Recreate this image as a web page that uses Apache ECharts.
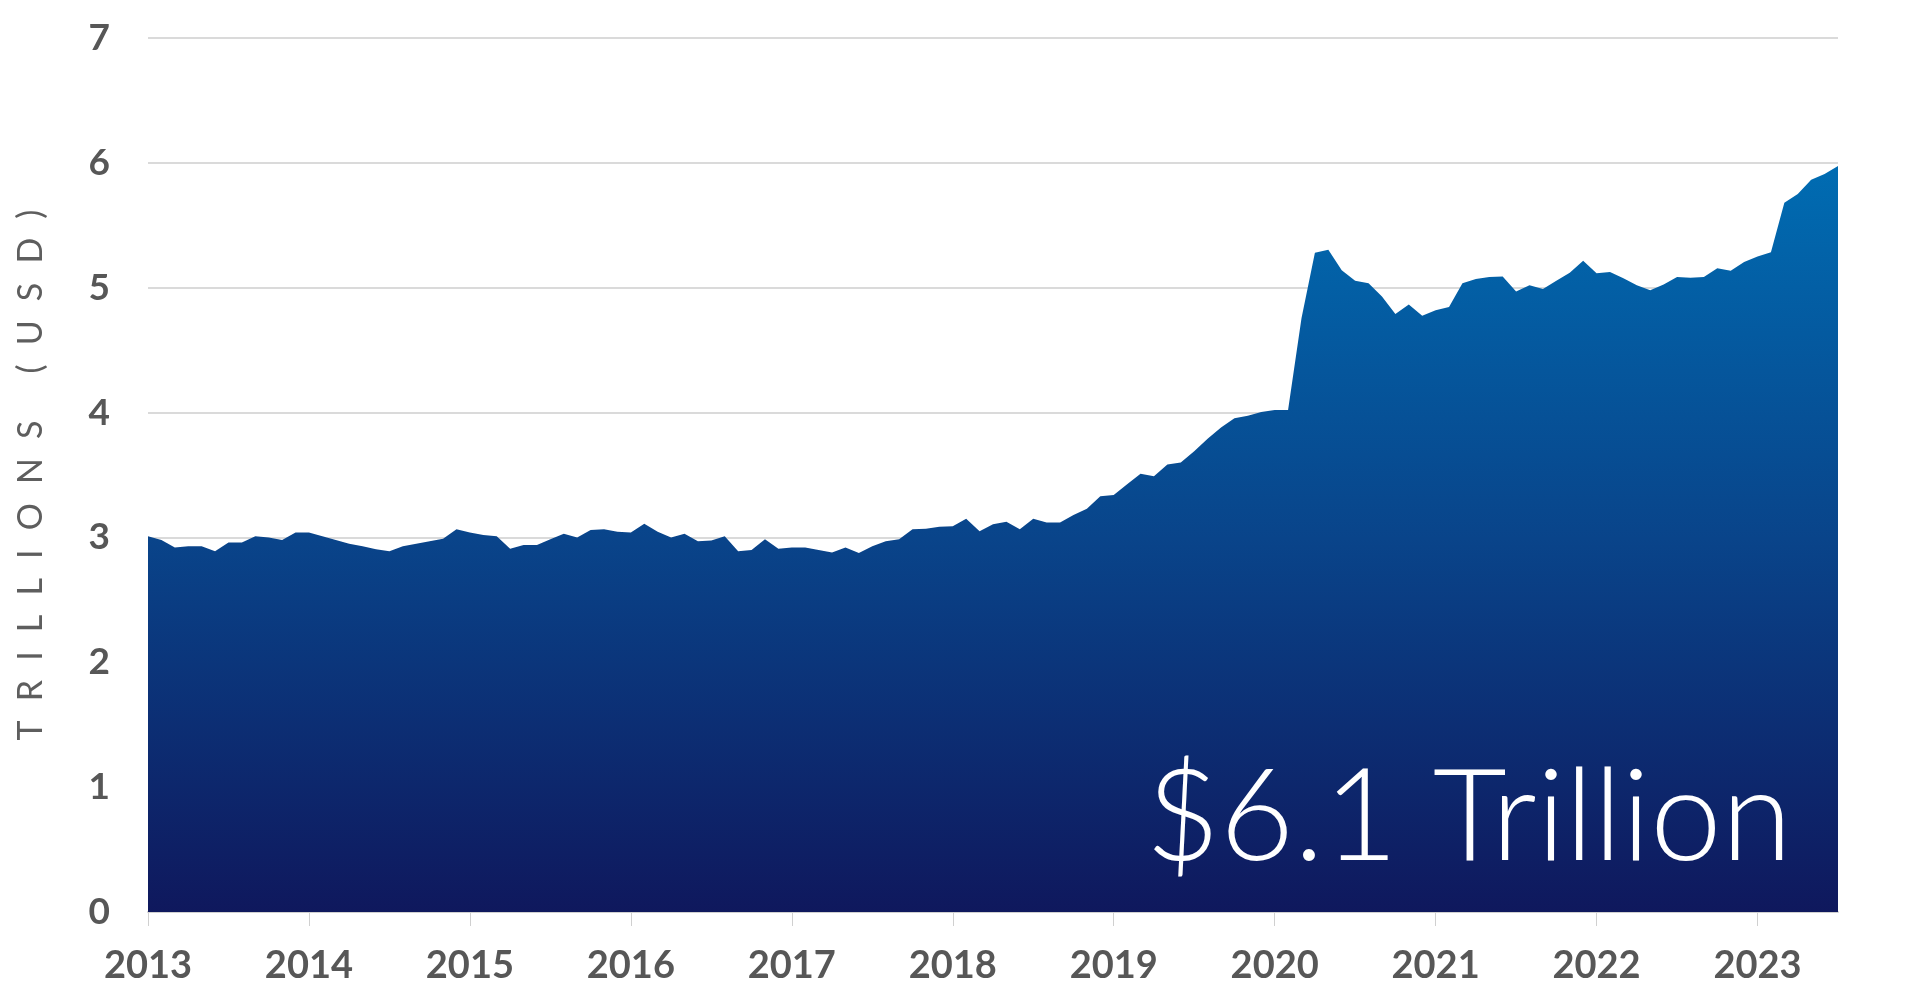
<!DOCTYPE html>
<html>
<head>
<meta charset="utf-8">
<script src="https://cdn.jsdelivr.net/npm/echarts@6/dist/echarts.min.js"></script>
<style>
html,body{margin:0;padding:0;background:#fff;}
#chart{width:1920px;height:1006px;}
</style>
</head>
<body>
<div id="chart"></div>
<script>
// Monthly, Jan 2013 .. Jul 2023
const startYear = 2013;
const values = [
  3.01, 2.98, 2.92, 2.93, 2.93, 2.89, 2.96, 2.96, 3.01, 3.00, 2.98, 3.04,
  3.04, 3.01, 2.98, 2.95, 2.93, 2.905, 2.89, 2.93, 2.95, 2.97, 2.99, 3.065,
  3.04, 3.02, 3.01, 2.91, 2.94, 2.94, 2.985, 3.03, 3.00, 3.06, 3.065, 3.045,
  3.04, 3.11, 3.045, 3.00, 3.03, 2.97, 2.975, 3.01, 2.89, 2.90, 2.985, 2.91,
  2.92, 2.92, 2.90, 2.88, 2.92, 2.875, 2.93, 2.97, 2.985, 3.065, 3.07, 3.085,
  3.09, 3.15, 3.05, 3.105, 3.125, 3.065, 3.15, 3.12, 3.12, 3.18, 3.23, 3.33,
  3.34, 3.425, 3.51, 3.49, 3.585, 3.60, 3.69, 3.79, 3.88, 3.955, 3.975, 4.005,
  4.02, 4.02, 4.755, 5.28, 5.305, 5.14, 5.055, 5.035, 4.93, 4.79, 4.865, 4.775,
  4.82, 4.845, 5.035, 5.07, 5.085, 5.09, 4.97, 5.02, 4.99, 5.055, 5.12, 5.215,
  5.115, 5.125, 5.075, 5.02, 4.98, 5.025, 5.085, 5.08, 5.085, 5.155, 5.135, 5.205,
  5.25, 5.285, 5.68, 5.75, 5.865, 5.91, 5.975
];
const months = values.map((v, i) => {
  const y = startYear + Math.floor(i / 12);
  const m = (i % 12) + 1;
  return y + '-' + (m < 10 ? '0' + m : m);
});
const yAxisTitle = 'TRILLIONS (USD)';
const calloutText = '$6.1 Trillion';

function spaced(s) {
  return s.split('').join('\u2002\u200A');
}

const chart = echarts.init(document.getElementById('chart'), null, {renderer: 'canvas'});
chart.setOption({
  animation: false,
  grid: {left: 148, right: 82, top: 38, bottom: 94, containLabel: false},
  xAxis: {
    type: 'category',
    data: months,
    boundaryGap: false,
    axisLine: {show: true, lineStyle: {color: '#d0d0d0', width: 2}},
    axisTick: {
      show: true,
      length: 14,
      interval: (idx) => idx % 12 === 0,
      lineStyle: {color: '#d0d0d0', width: 1}
    },
    axisLabel: {
      interval: (idx) => idx % 12 === 0,
      formatter: (v) => v.slice(0, 4),
      color: '#575757',
      fontFamily: 'Lato',
      fontWeight: 'bold',
      fontSize: 38,
      margin: 35
    },
    splitLine: {show: false}
  },
  yAxis: {
    type: 'value',
    min: 0,
    max: 7,
    interval: 1,
    name: spaced(yAxisTitle),
    nameLocation: 'middle',
    nameRotate: 90,
    nameGap: 100,
    nameTextStyle: {color: '#5e5e5e', fontFamily: 'Lato', fontSize: 34, fontWeight: 'normal'},
    axisLine: {show: false},
    axisTick: {show: false},
    axisLabel: {
      color: '#575757',
      fontFamily: 'Lato',
      fontWeight: 'bold',
      fontSize: 37,
      margin: 38
    },
    splitLine: {show: true, lineStyle: {color: '#dadada', width: 2}}
  },
  series: [{
    type: 'line',
    data: values,
    symbol: 'none',
    lineStyle: {width: 0},
    areaStyle: {
      opacity: 1,
      color: new echarts.graphic.LinearGradient(0, 0, 0, 1, [
        {offset: 0, color: '#006cb2'},
        {offset: 0.5, color: '#09448a'},
        {offset: 1, color: '#0f185d'}
      ])
    }
  }],
  graphic: [{
    type: 'text',
    right: 128,
    top: 755,
    z: 100,
    style: {
      text: calloutText,
      fill: '#ffffff',
      font: '300 128px Lato'
    }
  }]
});
</script>
</body>
</html>
